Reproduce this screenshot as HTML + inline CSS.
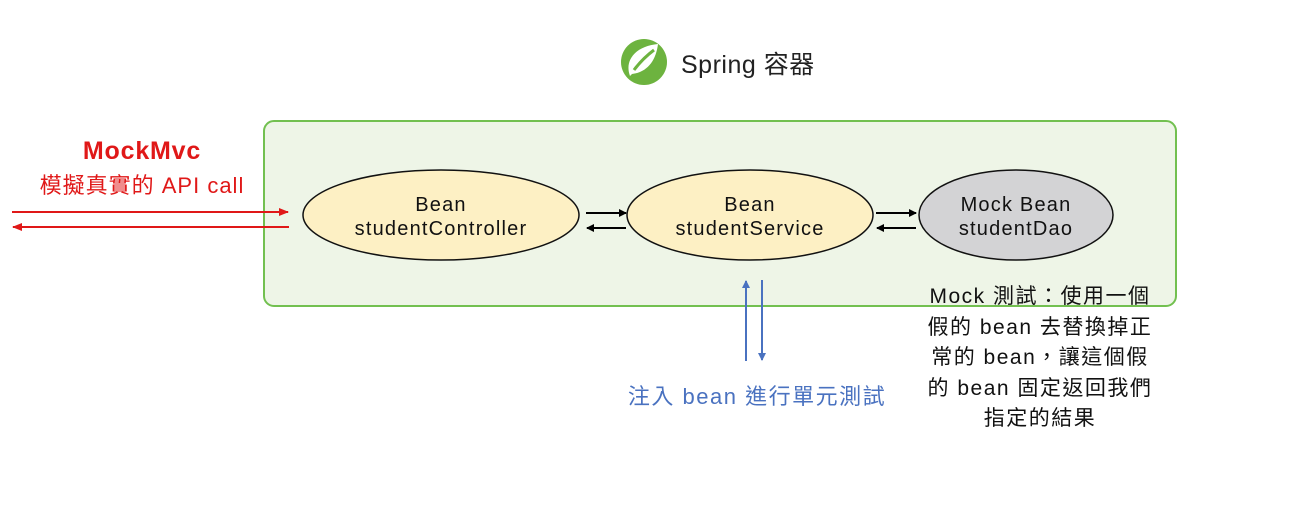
<!DOCTYPE html>
<html><head><meta charset="utf-8"><style>
body{margin:0;background:#fff;width:1314px;height:512px;overflow:hidden}
text{font-family:"Liberation Sans","Noto Sans CJK TC",sans-serif}
</style></head><body>
<svg width="1314" height="512" viewBox="0 0 1314 512" xmlns="http://www.w3.org/2000/svg">
<defs>
<marker id="ak" markerWidth="8" markerHeight="8" refX="7" refY="4" orient="auto" markerUnits="userSpaceOnUse"><path d="M0,0 L8,4 L0,8z" fill="#000"/></marker>
<marker id="ar" markerWidth="10" markerHeight="8" refX="9" refY="4" orient="auto" markerUnits="userSpaceOnUse"><path d="M0,0 L10,4 L0,8z" fill="#e01818"/></marker>
<marker id="ab" markerWidth="8" markerHeight="8" refX="7" refY="4" orient="auto" markerUnits="userSpaceOnUse"><path d="M0,0 L8,4 L0,8z" fill="#4a72c0"/></marker>
</defs>
<circle cx="644" cy="62" r="23" fill="#6db33f"/>
<path d="M630,76 C624,60 636,46 658,44 C656,60 648,72 632,74" fill="#fff"/>
<path d="M634,70 C640,62 646,56 654,50" stroke="#6db33f" stroke-width="3" fill="none"/>
<text x="681" y="73" font-size="25" letter-spacing="0.5" fill="#222">Spring 容器</text>
<rect x="264" y="121" width="912" height="185" rx="10" fill="#eef5e7" stroke="#72c050" stroke-width="2"/>
<ellipse cx="441" cy="215" rx="138" ry="45" fill="#fdf0c4" stroke="#111" stroke-width="1.5"/>
<ellipse cx="750" cy="215" rx="123" ry="45" fill="#fdf0c4" stroke="#111" stroke-width="1.5"/>
<ellipse cx="1016" cy="215" rx="97" ry="45" fill="#d3d3d5" stroke="#111" stroke-width="1.5"/>
<g font-size="20" letter-spacing="1.2" fill="#111" text-anchor="middle">
<text x="441" y="211">Bean</text><text x="441" y="235">studentController</text>
<text x="750" y="211">Bean</text><text x="750" y="235">studentService</text>
<text x="1016" y="211">Mock Bean</text><text x="1016" y="235">studentDao</text>
</g>
<g stroke="#000" stroke-width="2">
<line x1="586" y1="213" x2="626" y2="213" marker-end="url(#ak)"/>
<line x1="626" y1="228" x2="587" y2="228" marker-end="url(#ak)"/>
<line x1="876" y1="213" x2="916" y2="213" marker-end="url(#ak)"/>
<line x1="916" y1="228" x2="877" y2="228" marker-end="url(#ak)"/>
</g>
<g stroke="#e01818" stroke-width="2">
<line x1="12" y1="212" x2="288" y2="212" marker-end="url(#ar)"/>
<line x1="289" y1="227" x2="13" y2="227" marker-end="url(#ar)"/>
</g>
<g stroke="#4a72c0" stroke-width="2">
<line x1="746" y1="361" x2="746" y2="281" marker-end="url(#ab)"/>
<line x1="762" y1="280" x2="762" y2="360" marker-end="url(#ab)"/>
</g>
<text x="142" y="159" font-size="25" letter-spacing="0.8" font-weight="bold" fill="#e01818" text-anchor="middle">MockMvc</text>
<text x="142" y="193" font-size="22" letter-spacing="1" fill="#e01818" text-anchor="middle">模擬真實的 API call</text>
<text x="757" y="404" font-size="22" letter-spacing="1.5" fill="#4a72c0" text-anchor="middle">注入 bean 進行單元測試</text>
<g font-size="21" letter-spacing="1.5" fill="#111" text-anchor="middle">
<text x="1040" y="303">Mock 測試：使用一個</text>
<text x="1040" y="334">假的 bean 去替換掉正</text>
<text x="1040" y="364">常的 bean，讓這個假</text>
<text x="1040" y="395">的 bean 固定返回我們</text>
<text x="1040" y="425">指定的結果</text>
</g>
</svg>
</body></html>
